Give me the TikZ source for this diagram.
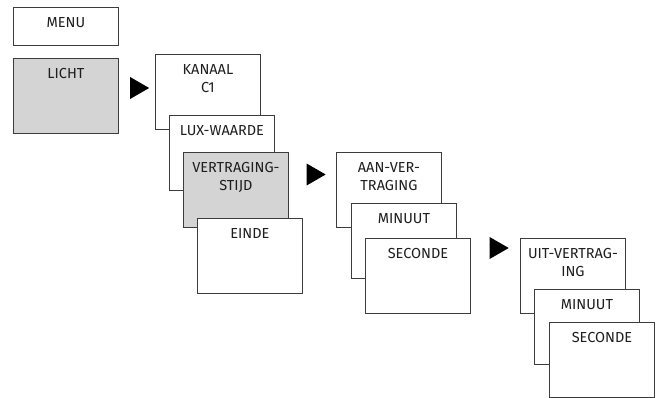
\documentclass[tikz,border=0pt]{standalone}
\usepackage{fontspec}
\setmainfont{Fira Sans}
\usetikzlibrary{shapes.geometric}
\definecolor{edge}{HTML}{3C3C3C}
\definecolor{shade}{HTML}{D4D4D4}
\definecolor{ink}{HTML}{1E1E1E}
\tikzset{
  box/.style={draw=edge, line width=0.9pt, fill=white, anchor=north west, inner sep=0pt,
    minimum width=105pt, minimum height=75pt},
  shadebox/.style={box, fill=shade},
  smallbox/.style={box, minimum height=38pt},
  txt/.style={anchor=north, inner sep=0pt, align=center, text=ink,
    font=\fontsize{14.5pt}{18.5pt}\selectfont, yshift=-10pt},
  tri/.style={isosceles triangle, isosceles triangle apex angle=60, fill=black,
    inner sep=0pt, minimum height=19pt, anchor=center}
}
\begin{document}
\begin{tikzpicture}[x=1pt,y=-1pt]
\useasboundingbox (0,0) rectangle (658,398);
% column 1
\node[smallbox] (menu) at (13,7) {};
\node[txt] (tmenu) at (menu.north) {MENU};
\node[shadebox] (licht) at (13,58) {};
\node[txt] (tlicht) at (licht.north) {LICHT};
\node[tri] (a1) at (136.5,88) {};
% column 2
\node[box] (kanaal) at (155,54) {};
\node[txt] (tkanaal) at (kanaal.north) {KANAAL\\C1};
\node[box] (lux) at (169,115) {};
\node[txt] (tlux) at (lux.north) {LUX-WAARDE};
\node[shadebox] (vertr) at (183,152) {};
\node[txt] (tvertr) at (vertr.north) {VERTRAGING-\\STIJD};
\node[box] (einde) at (197,218) {};
\node[txt] (teinde) at (einde.north) {EINDE};
\node[tri] (a2) at (313,174.5) {};
% column 3
\node[box] (aan) at (336,152) {};
\node[txt] (taan) at (aan.north) {AAN-VER-\\TRAGING};
\node[box] (min1) at (351,203) {};
\node[txt] (tmin1) at (min1.north) {MINUUT};
\node[box] (sec1) at (365,238) {};
\node[txt] (tsec1) at (sec1.north) {SECONDE};
\node[tri] (a3) at (496,248) {};
% column 4
\node[box] (uit) at (520,238) {};
\node[txt] (tuit) at (uit.north) {UIT-VERTRAG-\\ING};
\node[box] (min2) at (534,289) {};
\node[txt] (tmin2) at (min2.north) {MINUUT};
\node[box] (sec2) at (549,322) {};
\node[txt] (tsec2) at (sec2.north) {SECONDE};
\end{tikzpicture}
\end{document}
